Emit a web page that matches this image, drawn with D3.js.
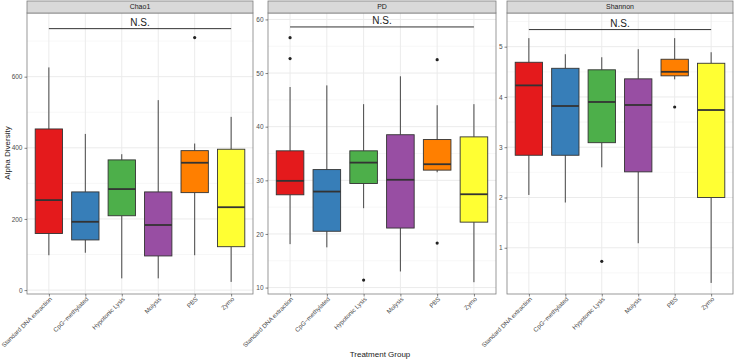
<!DOCTYPE html>
<html><head><meta charset="utf-8">
<script src="https://cdn.jsdelivr.net/npm/d3@7"></script>
<style>body{margin:0;background:#fff}svg{display:block;font-family:"Liberation Sans",Arial,sans-serif}</style>
</head><body><svg id="c" width="735" height="362"></svg>
<script>
const categories = ["Standard DNA extraction","CpG\u2212methylated","Hypotonic Lysis","Molysis","PBS","Zymo"];
const colors = ["#E41A1C","#377EB8","#4DAF4A","#984EA3","#FF7F00","#FFFF33"];
const panelNames = ["Chao1","PD","Shannon"];
// [lower whisker, Q1, median, Q3, upper whisker]
const chao1Stats = [[98,159,253,453,626],[105,141,192,276,439],[33,209,284,366,382],[33,96,183,276,534],[98,274,358,392,412],[23,122,233,396,487]];
const chao1Outliers = [[],[],[],[],[710],[]];
const pdStats = [[18.1,27.3,29.9,35.5,47.4],[17.5,20.5,27.9,32.0,47.7],[24.8,29.4,33.3,35.5,44.2],[13.0,21.1,30.1,38.5,49.4],[31.5,31.9,33.0,37.6,44.0],[11.0,22.2,27.4,38.1,44.2]];
const pdOutliers = [[56.6,52.7],[],[11.4],[],[52.5,18.3],[]];
const shannonStats = [[2.05,2.84,4.23,4.69,5.17],[1.90,2.84,3.82,4.57,4.85],[2.60,3.09,3.90,4.54,4.79],[1.09,2.51,3.84,4.36,4.95],[4.35,4.42,4.50,4.75,5.17],[0.30,2.00,3.74,4.67,4.89]];
const shannonOutliers = [[],[],[0.73],[],[3.80],[]];
const chao1Ticks = [0,200,400,600];
const pdTicks = [10,20,30,40,50,60];
const shannonTicks = [1,2,3,4,5];
const chao1Minor = [100,300,500,700];
const pdMinor = [15,25,35,45,55];
const shannonMinor = [0.5,1.5,2.5,3.5,4.5,5.5];
const sigLabel = "N.S.";

const panels = [
  {name:panelNames[0], stats:chao1Stats, outl:chao1Outliers, ticks:chao1Ticks, minor:chao1Minor, domain:[-11,779], sig:735, x0:27, x1:253},
  {name:panelNames[1], stats:pdStats, outl:pdOutliers, ticks:pdTicks, minor:pdMinor, domain:[8.8,61.2], sig:58.6, x0:268, x1:496},
  {name:panelNames[2], stats:shannonStats, outl:shannonOutliers, ticks:shannonTicks, minor:shannonMinor, domain:[0.08,5.67], sig:5.34, x0:507, x1:733}
];
const svg = d3.select("#c");
const pTop = 13, pBottom = 294, stripTop = 1;
panels.forEach(p => {
  const g = svg.append("g");
  const x = d3.scalePoint().domain(categories).range([p.x0, p.x1]).padding(0.6);
  const y = d3.scaleLinear().domain(p.domain).range([pBottom, pTop]);
  const bw = x.step() * 0.75;
  g.append("rect").attr("x",p.x0).attr("y",pTop).attr("width",p.x1-p.x0).attr("height",pBottom-pTop).attr("fill","#fff");
  g.selectAll(".mn").data(p.minor.filter(v=>y(v)>pTop&&y(v)<pBottom)).join("line")
    .attr("x1",p.x0).attr("x2",p.x1).attr("y1",d=>y(d)).attr("y2",d=>y(d)).attr("stroke","#F2F2F2").attr("stroke-width",0.6);
  g.selectAll(".mj").data(p.ticks).join("line")
    .attr("x1",p.x0).attr("x2",p.x1).attr("y1",d=>y(d)).attr("y2",d=>y(d)).attr("stroke","#EBEBEB").attr("stroke-width",1);
  g.selectAll(".vg").data(categories).join("line")
    .attr("x1",d=>x(d)).attr("x2",d=>x(d)).attr("y1",pTop).attr("y2",pBottom).attr("stroke","#EBEBEB").attr("stroke-width",1);
  categories.forEach((c,i) => {
    const s = p.stats[i], cx = x(c);
    g.append("line").attr("x1",cx).attr("x2",cx).attr("y1",y(s[3])).attr("y2",y(s[4])).attr("stroke","#333").attr("stroke-width",0.9);
    g.append("line").attr("x1",cx).attr("x2",cx).attr("y1",y(s[1])).attr("y2",y(s[0])).attr("stroke","#333").attr("stroke-width",0.9);
    g.append("rect").attr("x",cx-bw/2).attr("width",bw).attr("y",y(s[3])).attr("height",y(s[1])-y(s[3]))
      .attr("fill",colors[i]).attr("stroke","#333").attr("stroke-width",0.9);
    g.append("line").attr("x1",cx-bw/2).attr("x2",cx+bw/2).attr("y1",y(s[2])).attr("y2",y(s[2])).attr("stroke","#333").attr("stroke-width",1.8);
    p.outl[i].forEach(v => g.append("circle").attr("cx",cx).attr("cy",y(v)).attr("r",1.6).attr("fill","#222"));
  });
  const xa = x(categories[0]), xb = x(categories[5]);
  g.append("line").attr("x1",xa).attr("x2",xb).attr("y1",y(p.sig)).attr("y2",y(p.sig)).attr("stroke","#333").attr("stroke-width",1);
  g.append("text").attr("x",(xa+xb)/2).attr("y",y(p.sig)-3).attr("text-anchor","middle").attr("font-size",10).attr("fill","#222").text(sigLabel);
  g.append("rect").attr("x",p.x0).attr("y",pTop).attr("width",p.x1-p.x0).attr("height",pBottom-pTop).attr("fill","none").attr("stroke","#7f7f7f").attr("stroke-width",0.8);
  g.append("rect").attr("x",p.x0).attr("y",stripTop).attr("width",p.x1-p.x0).attr("height",pTop-stripTop).attr("fill","#D9D9D9").attr("stroke","#7f7f7f").attr("stroke-width",0.8);
  g.append("text").attr("x",(p.x0+p.x1)/2).attr("y",(stripTop+pTop)/2+2.4).attr("text-anchor","middle").attr("font-size",7).attr("fill","#1A1A1A").text(p.name);
  const ya = g.append("g").attr("transform",`translate(${p.x0},0)`).call(d3.axisLeft(y).tickValues(p.ticks).tickSize(2.5).tickPadding(2).tickFormat(d3.format("d")));
  ya.select(".domain").remove();
  ya.selectAll("line").attr("stroke","#333").attr("stroke-width",0.6);
  ya.selectAll("text").attr("font-size",6.5).attr("fill","#4D4D4D").attr("font-family","Liberation Sans, Arial, sans-serif");
  const xaG = g.append("g").attr("transform",`translate(0,${pBottom})`).call(d3.axisBottom(x).tickSize(2.5).tickPadding(2));
  xaG.select(".domain").remove();
  xaG.selectAll("line").attr("stroke","#333").attr("stroke-width",0.6);
  xaG.selectAll("text").attr("font-size",6.2).attr("fill","#4D4D4D").attr("font-family","Liberation Sans, Arial, sans-serif")
    .attr("text-anchor","end").attr("dy",null).attr("y",0).attr("transform","translate(3,5.5) rotate(-45)");
});
svg.append("text").attr("transform","translate(10,153) rotate(-90)").attr("text-anchor","middle").attr("font-size",8).attr("fill","#1A1A1A").text("Alpha Diversity");
svg.append("text").attr("x",380).attr("y",357).attr("text-anchor","middle").attr("font-size",8).attr("fill","#1A1A1A").text("Treatment Group");
</script></body></html>
